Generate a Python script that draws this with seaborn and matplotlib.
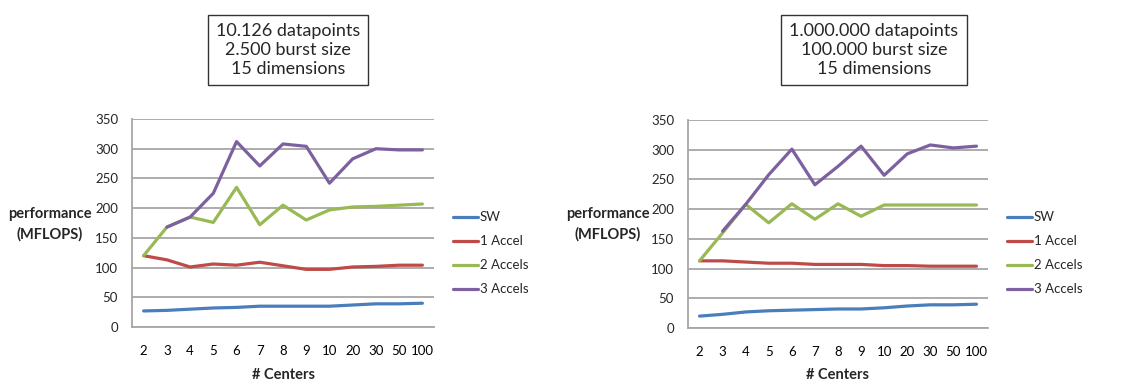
import numpy as np
import pandas as pd
import matplotlib
matplotlib.use("Agg")
import matplotlib.pyplot as plt
import seaborn as sns

# Number of cluster centers (categorical axis)
centers = ["2", "3", "4", "5", "6", "7", "8", "9", "10", "20", "30", "50", "100"]
series_names = ["SW", "1 Accel", "2 Accels", "3 Accels"]

# Small dataset: 10.126 datapoints, 2.500 burst size
small_sw = [27, 28, 30, 32, 33, 35, 35, 35, 35, 37, 39, 39, 40]
small_1acc = [120, 113, 101, 106, 104, 109, 103, 97, 97, 101, 102, 104, 104]
small_2acc = [120, 168, 185, 176, 235, 172, 205, 180, 197, 202, 203, 205, 207]
small_3acc = [np.nan, 168, 185, 225, 312, 271, 308, 304, 242, 283, 300, 298, 298]

# Large dataset: 1.000.000 datapoints, 100.000 burst size
large_sw = [20, 23, 27, 29, 30, 31, 32, 32, 34, 37, 39, 39, 40]
large_1acc = [113, 113, 111, 109, 109, 107, 107, 107, 105, 105, 104, 104, 104]
large_2acc = [113, 160, 208, 177, 209, 183, 209, 188, 207, 207, 207, 207, 207]
large_3acc = [np.nan, 163, 208, 258, 301, 241, 272, 306, 257, 293, 308, 303, 306]

titles = ["10.126 datapoints\n2.500 burst size\n15 dimensions",
          "1.000.000 datapoints\n100.000 burst size\n15 dimensions"]

colors = ["#4a7ebb", "#be4b48", "#98b954", "#7d60a0"]

sns.set_theme(style="white")
plt.rcParams["font.family"] = ["Lato", "DejaVu Sans"]


def frame(sw, a1, a2, a3):
    rows = []
    for name, vals in zip(series_names, [sw, a1, a2, a3]):
        for i, (c, v) in enumerate(zip(centers, vals)):
            rows.append({"pos": i, "centers": c, "series": name, "mflops": v})
    return pd.DataFrame(rows).dropna()


data = [frame(small_sw, small_1acc, small_2acc, small_3acc),
        frame(large_sw, large_1acc, large_2acc, large_3acc)]

W, H = 1125, 383
fig = plt.figure(figsize=(W / 100, H / 100), dpi=100)

# axes rectangles in pixels: (left, right, top, bottom)
rects = [(132, 434, 119, 327), (688, 988, 120, 328)]
boxes = [(288, 50), (874, 50)]
ylab_x = [50, 608]
leg_x = [453, 1007]

grid_col = "#a6a6a6"
for k in range(2):
    l, r, t, b = rects[k]
    ax = fig.add_axes([l / W, 1 - b / H, (r - l) / W, (b - t) / H])
    sns.lineplot(data=data[k], x="pos", y="mflops", hue="series",
                 hue_order=series_names, palette=colors, linewidth=2.3,
                 sort=True, legend=False, ax=ax)
    ax.set_xlim(-0.5, len(centers) - 0.5)
    ax.set_ylim(0, 350)
    ax.set_yticks(range(0, 351, 50))
    ax.set_xticks(range(len(centers)))
    ax.set_xticklabels(centers)
    ax.set_xticks(np.arange(-0.5, len(centers), 1.0), minor=True)
    ax.tick_params(axis="x", which="major", length=0, pad=13, labelsize=9.5,
                   colors="#000000")
    ax.tick_params(axis="x", which="minor", length=5, width=1, color=grid_col,
                   direction="out")
    ax.tick_params(axis="y", length=0, pad=10, labelsize=9.5)
    ax.yaxis.grid(True, color=grid_col, linewidth=1.3)
    ax.xaxis.grid(False)
    ax.set_axisbelow(True)
    for s in ["top", "right"]:
        ax.spines[s].set_visible(False)
    for s in ["left", "bottom"]:
        ax.spines[s].set_color(grid_col)
        ax.spines[s].set_linewidth(1.3)
    ax.set_xlabel("")
    ax.set_ylabel("")

    # axis titles
    fig.text((l + r) / 2 / W, 1 - 375 / H, "# Centers", ha="center",
             va="center", fontsize=10.5, fontweight="bold")
    fig.text(ylab_x[k] / W, 1 - 224 / H, "performance\n(MFLOPS)",
             ha="center", va="center", fontsize=10.5, fontweight="bold",
             linespacing=1.5)

    # legend drawn as line samples with labels
    for j, name in enumerate(series_names):
        y = 1 - (217 + 24 * j) / H
        fig.add_artist(plt.Line2D([leg_x[k] / W, (leg_x[k] + 25) / W], [y, y],
                                  color=colors[j], linewidth=2.3,
                                  transform=fig.transFigure))
        fig.text((leg_x[k] + 27) / W, y, name, ha="left", va="center",
                 fontsize=9.5)

    cx, cy = boxes[k]
    fig.text(cx / W, 1 - cy / H, titles[k], ha="center", va="center",
             fontsize=13, linespacing=1.25,
             bbox=dict(boxstyle="square,pad=0.45", facecolor="white",
                       edgecolor="#333333", linewidth=1.0))

fig.savefig("out.png", dpi=100)
